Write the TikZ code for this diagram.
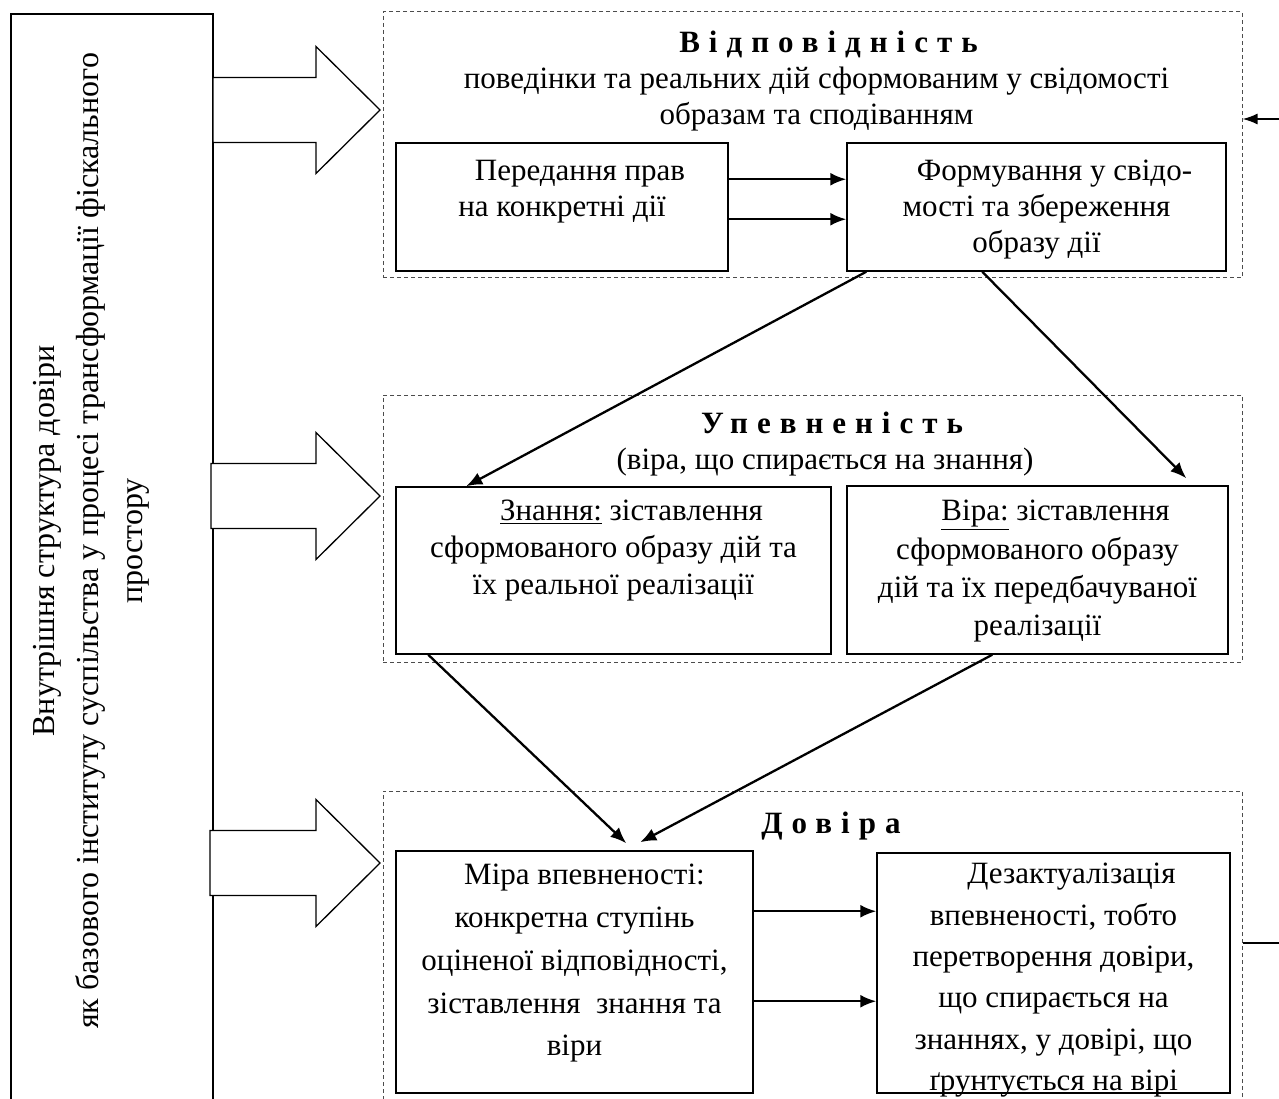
\documentclass[tikz,border=0pt]{standalone}
\usepackage{fontspec}
\setmainfont{Liberation Serif}
\usetikzlibrary{arrows.meta}
\begin{document}
\begin{tikzpicture}[x=1pt,y=-1pt,>={Latex[length=16pt,width=13pt]}]
	\tikzstyle{ramka}=[draw,line width=1pt,dash pattern=on 4pt off 3pt,color=black!70,inner sep=0pt];
	\tikzstyle{blok}=[draw,line width=1.5pt,inner sep=0pt];
	\tikzstyle{tekst}=[inner sep=0pt,align=center,anchor=north,font=\fontsize{31}{36}\selectfont];
	\tikzstyle{strilka}=[->,line width=2.3pt];
	\useasboundingbox(0,0)rectangle(1279,1099);

	\node[blok,minimum width=202pt,minimum height=1106pt](livyi)at(112,567){};
	\node[tekst,rotate=90,anchor=center,font=\fontsize{32}{44}\selectfont](livyi-t)at(91,541){Внутрішня структура довіри\\як базового інституту суспільства у процесі трансформації фіскального\\простору};
	\foreach \yc/\xs in {110/213,496/211,863/210}
		\draw[line width=1.3pt,fill=white](\xs,\yc-32.5)--(316,\yc-32.5)--(316,\yc-63.5)--(380,\yc)--(316,\yc+63.5)--(316,\yc+32.5)--(\xs,\yc+32.5)--cycle;

	\node[ramka,minimum width=859pt,minimum height=266pt](otv)at(812.5,145){};
	\node[tekst,xshift=4pt,yshift=-19pt](otv-t)at(otv.north){\hspace*{24pt}{\bfseries\addfontfeature{LetterSpace=29}Відповідність}\\поведінки та реальних дій сформованим у свідомості\\образам та сподіванням};
	\node[blok,minimum width=332pt,minimum height=128pt](peredannia)at(562,207){};
	\node[tekst,yshift=-18pt](peredannia-t)at(peredannia.north){\hspace*{36pt}Передання прав\\на конкретні дії};
	\node[blok,minimum width=379pt,minimum height=128pt](formuvannia)at(1036.5,207){};
	\node[tekst,yshift=-18pt](formuvannia-t)at(formuvannia.north){\hspace*{36pt}Формування у свідо-\\мості та збереження\\образу дії};

	\node[ramka,minimum width=859pt,minimum height=267pt](upev)at(812.5,528.5){};
	\node[tekst,xshift=12.5pt,yshift=-17pt](upev-t)at(upev.north){\hspace*{14pt}{\bfseries\addfontfeature{LetterSpace=29}Упевненість}\\(віра, що спирається на знання)};
	\node[blok,minimum width=435pt,minimum height=167pt](znannia)at(613.5,570.5){};
	\node[tekst,yshift=-14pt,font=\fontsize{31}{37}\selectfont](znannia-t)at(znannia.north){\hspace*{36pt}\underline{Знання:} зіставлення\\сформованого образу дій та\\їх реальної реалізації};
	\node[blok,minimum width=381pt,minimum height=168pt](vira)at(1037.5,570){};
	\node[tekst,yshift=-15pt,font=\fontsize{31}{38.3}\selectfont](vira-t)at(vira.north){\hspace*{36pt}\underline{Віра:} зіставлення\\сформованого образу\\дій та їх передбачуваної\\реалізації};

	\node[ramka,minimum width=859pt,minimum height=329pt](dov)at(812.5,955.5){};
	\node[tekst,xshift=18.5pt,yshift=-21pt](dov-t)at(dov.north){{\bfseries\addfontfeature{LetterSpace=29}Довіра}};
	\node[blok,minimum width=357pt,minimum height=242pt](mira)at(574.5,972){};
	\node[tekst,yshift=-14pt,font=\fontsize{31}{42.7}\selectfont](mira-t)at(mira.north){\hspace*{20pt}Міра впевненості:\\конкретна ступінь\\оціненої відповідності,\\зіставлення\ \ знання та\\віри};
	\node[blok,minimum width=353pt,minimum height=240pt](dezakt)at(1053.5,973){};
	\node[tekst,yshift=-11pt,font=\fontsize{31}{41.3}\selectfont](dezakt-t)at(dezakt.north){\hspace*{36pt}Дезактуалізація\\впевненості, тобто\\перетворення довіри,\\що спирається на\\знаннях, у довірі, що\\ґрунтується на вірі};

	\draw[strilka]([yshift=-37pt]peredannia.north east)--([yshift=-37pt]formuvannia.north west);
	\draw[strilka]([yshift=-77pt]peredannia.north east)--([yshift=-77pt]formuvannia.north west);
	\draw[strilka]([xshift=20pt]formuvannia.south west)--([xshift=71pt]znannia.north west);
	\draw[strilka]([xshift=136pt]formuvannia.south west)--([xshift=340pt,yshift=7pt]vira.north west);
	\draw[strilka]([xshift=33pt]znannia.south west)--([xshift=231pt,yshift=7pt]mira.north west);
	\draw[strilka]([xshift=146pt]vira.south west)--([xshift=245pt,yshift=8pt]mira.north west);
	\draw[strilka]([yshift=-61pt]mira.north east)--([yshift=-59pt]dezakt.north west);
	\draw[strilka]([yshift=-151pt]mira.north east)--([yshift=-149pt]dezakt.north west);

	\coordinate(vhid)at(1290,119);
	\draw[->,line width=1.8pt,>={Latex[length=15pt,width=11pt]}](vhid)--(vhid-|otv.east);
	\coordinate(vyhid)at(1290,943);
	\draw[line width=1.8pt](dov.east|-vyhid)--(vyhid);
\end{tikzpicture}
\end{document}
